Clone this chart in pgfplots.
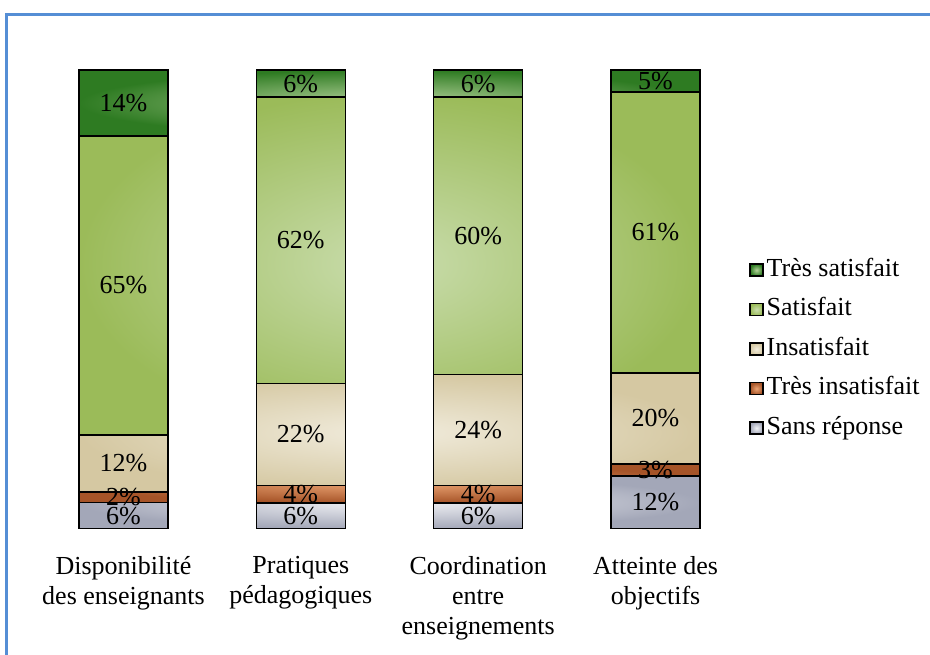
\documentclass[border=0pt]{standalone}
\usepackage{pgfplots}
\pgfplotsset{compat=1.18}
\usepackage{fontspec}
\setmainfont{Liberation Serif}
\definecolor{frameblue}{HTML}{558ED5}
\definecolor{tsOut}{HTML}{2E7B22}
\definecolor{tsIn}{HTML}{B4D29A}
\definecolor{sOut}{HTML}{9BBB59}
\definecolor{sIn}{HTML}{CADDAE}
\definecolor{iOut}{HTML}{D5C8A2}
\definecolor{iIn}{HTML}{F1ECDD}
\definecolor{tiOut}{HTML}{A65428}
\definecolor{tiIn}{HTML}{EBA474}
\definecolor{srOut}{HTML}{A3A7B8}
\definecolor{srIn}{HTML}{F2F3F6}
\newcommand{\lblfont}{\fontsize{13bp}{15bp}\selectfont}
\begin{document}
\begin{tikzpicture}
\path[use as bounding box] (0,0) rectangle (465bp,327.5bp);
\draw[frameblue, line width=1.5bp] (3bp,0) -- (3bp,320bp) -- (466bp,320bp);
\begin{axis}[
  at={(17.4bp,63bp)}, anchor=south west,
  scale only axis, width=354.7bp, height=229.5bp,
  ybar stacked, bar width=0.502,
  xmin=-0.5, xmax=3.5, ymin=0, ymax=100,
  enlargelimits=false,
  hide y axis,
  axis line style={draw=none}, tick style={draw=none},
  xtick={0,1,2,3},
  xticklabels={{Disponibilité\\des enseignants},{Pratiques\\pédagogiques},{Coordination\\entre\\enseignements},{Atteinte des\\objectifs}},
  xticklabel style={align=center, font=\lblfont, inner sep=0pt, anchor=north, yshift=-13.5bp},
  legend style={draw=none, fill=none, at={(rel axis cs:1.0068,0.392)}, anchor=west,
    inner sep=0pt, font=\lblfont, row sep=7.75bp,
    nodes={inner ysep=0pt, inner xsep=1.5bp, text height=9bp, text depth=3bp}},
  legend cell align=left,
  reverse legend,
  legend image code/.code={\draw[#1, draw=black, line width=0.6bp] (0bp,-3bp) rectangle (6.5bp,3bp);},
  nodes near coords={\pgfmathprintnumber[fixed,precision=0]{\pgfplotspointmeta}\%},
  every node near coord/.append style={anchor=center, font=\lblfont, text=black, inner sep=0pt},
  /pgf/number format/assume math mode=true,
]
\addplot[draw=black, line width=0.75bp, inner color=srIn, outer color=srOut] coordinates {(0,5.8) (1,5.7) (2,5.7) (3,11.6)};
\addlegendentry{Sans réponse}
\addplot[draw=black, line width=0.75bp, inner color=tiIn, outer color=tiOut] coordinates {(0,2.3) (1,3.8) (2,3.8) (3,2.6)};
\addlegendentry{Très insatisfait}
\addplot[draw=black, line width=0.75bp, inner color=iIn, outer color=iOut] coordinates {(0,12.4) (1,22.2) (2,24.2) (3,19.8)};
\addlegendentry{Insatisfait}
\addplot[draw=black, line width=0.75bp, inner color=sIn, outer color=sOut] coordinates {(0,65.1) (1,62.4) (2,60.4) (3,61.2)};
\addlegendentry{Satisfait}
\addplot[draw=black, line width=0.75bp, inner color=tsIn, outer color=tsOut] coordinates {(0,14.4) (1,5.9) (2,5.9) (3,4.8)};
\addlegendentry{Très satisfait}
\end{axis}
\end{tikzpicture}
\end{document}
